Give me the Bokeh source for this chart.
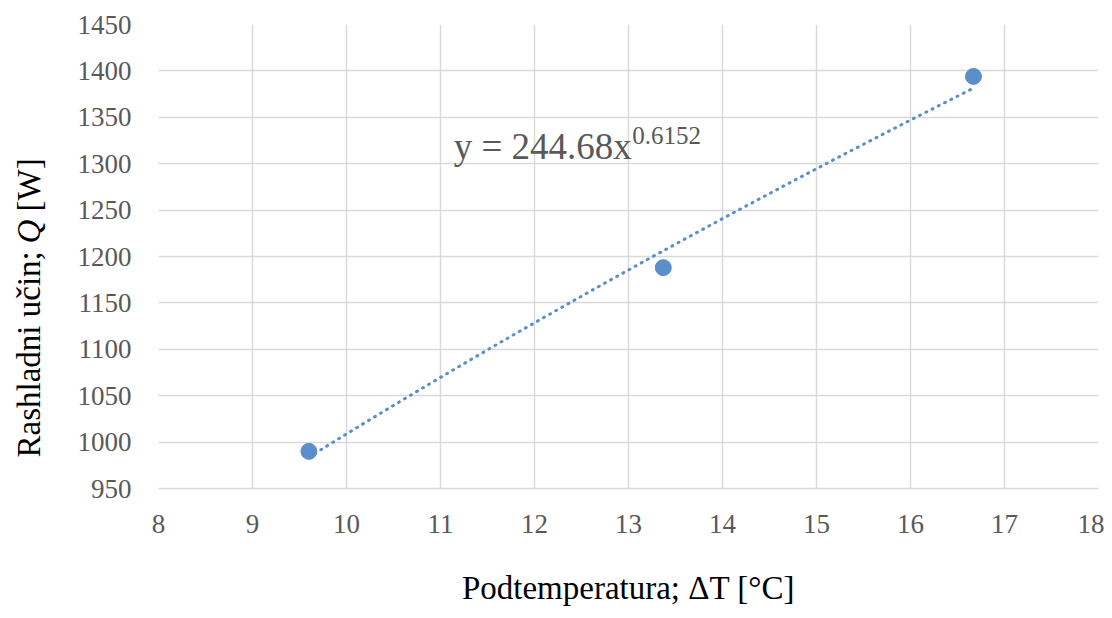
import numpy as np
from bokeh.plotting import figure
from bokeh.layouts import row
from bokeh.models import Label, Range1d, FixedTicker
from bokeh.embed import file_html
from bokeh.resources import INLINE

# data
delta_t = [9.6, 13.37, 16.67]
q_watts = [990, 1188, 1394]
coef_a = 244.68
coef_b = 0.6152
x_ticks = [8, 9, 10, 11, 12, 13, 14, 15, 16, 17, 18]
y_ticks = [950, 1000, 1050, 1100, 1150, 1200, 1250, 1300, 1350, 1400, 1450]

FONT = "Liberation Serif"
GRAY = "#595959"
BLUE = "#5b8fc9"

H = 610
LW = 60
TOP = 24
BOTTOM = 122

p = figure(width=1104 - LW, height=H, output_backend="svg", toolbar_location=None,
           x_range=Range1d(8, 18), y_range=Range1d(950, 1450),
           min_border_left=158 - LW, min_border_right=6, min_border_top=TOP, min_border_bottom=BOTTOM)
p.outline_line_color = None
p.background_fill_color = "white"
p.border_fill_color = "white"

for ax in (p.xaxis, p.yaxis):
    ax.major_tick_line_color = None
    ax.minor_tick_line_color = None
    ax.major_label_text_font = FONT
    ax.major_label_text_font_size = "27px"
    ax.major_label_text_color = GRAY
    ax.axis_label_text_font = FONT
    ax.axis_label_text_font_size = "33px"
    ax.axis_label_text_font_style = "normal"
    ax.axis_label_text_color = "black"

p.xaxis.ticker = FixedTicker(ticks=x_ticks)
p.yaxis.ticker = FixedTicker(ticks=y_ticks)
p.xaxis.axis_line_color = "#d9d9d9"
p.xaxis.axis_line_width = 1.5
p.yaxis.axis_line_color = None
p.xaxis.major_label_standoff = 20
p.yaxis.major_label_standoff = 21
p.xaxis.axis_label = "Podtemperatura; ΔT [°C]"
p.xaxis.axis_label_standoff = 34

p.xgrid.grid_line_color = "#d9d9d9"
p.ygrid.grid_line_color = "#d9d9d9"
p.xgrid.grid_line_width = 1.5
p.ygrid.grid_line_width = 1.5

# power trendline from fitted equation
xt = np.linspace(min(delta_t), max(delta_t), 100)
yt = coef_a * xt ** coef_b
p.line(xt, yt, line_color=BLUE, line_width=3, line_dash="1 6", line_cap="round")

p.scatter(delta_t, q_watts, size=16, fill_color=BLUE, line_color=BLUE)

p.add_layout(Label(x=11.14, y=1319, text="y = 244.68x", text_font=FONT, text_font_size="37px",
                   text_color=GRAY, text_baseline="alphabetic"))
p.add_layout(Label(x=13.04, y=1330, text="0.6152", text_font=FONT, text_font_size="25px",
                   text_color=GRAY, text_baseline="alphabetic"))

# narrow strip holding the y-axis title (with italic Q); its frame aligns with the main frame
t = figure(width=LW, height=H, output_backend="svg", toolbar_location=None,
           x_range=Range1d(0, LW), y_range=Range1d(BOTTOM, H - TOP),
           x_axis_location=None, y_axis_location=None,
           min_border_left=0, min_border_right=0, min_border_top=TOP, min_border_bottom=BOTTOM)
t.outline_line_color = None
t.xgrid.visible = False
t.ygrid.visible = False
t.background_fill_color = "white"
t.border_fill_color = "white"

ang = np.pi / 2
common = dict(angle=ang, text_font=FONT, text_font_size="33px", text_color="black",
              text_baseline="middle", text_align="left")
t.add_layout(Label(x=28, y=153, text="Rashladni učin; ", **common))
t.add_layout(Label(x=28, y=367, text="Q", text_font_style="italic", **common))
t.add_layout(Label(x=28, y=399, text="[W]", **common))

layout = row(t, p, spacing=0)
open("out.html", "w").write(file_html(layout, INLINE))
